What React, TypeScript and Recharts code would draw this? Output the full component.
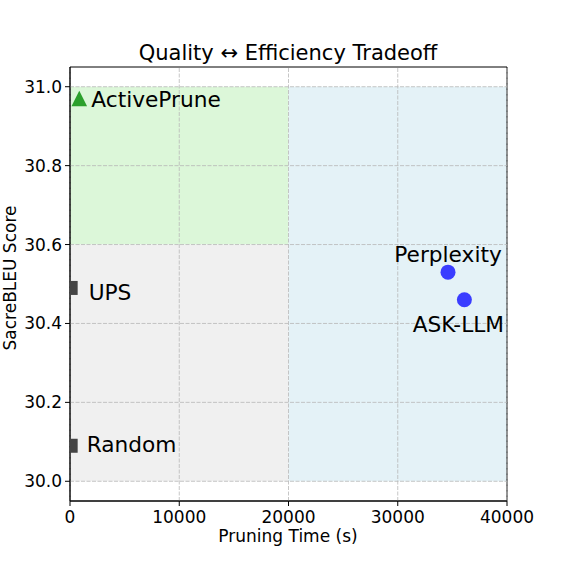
import { ReferenceArea, ReferenceLine, Scatter, ScatterChart, XAxis, YAxis } from "recharts";

const FONT = "'DejaVu Sans', 'Liberation Sans', sans-serif";

// points
const methods = ["ActivePrune", "UPS", "Random", "Perplexity", "ASK-LLM"];
const pruningTime = [850, 60, 60, 34600, 36100];
const sacreBleu = [30.97, 30.49, 30.09, 30.53, 30.46];
const family = ["ours", "cheap", "cheap", "model", "model"];

const xTicks = [0, 10000, 20000, 30000, 40000];
const yTicks = [30.0, 30.2, 30.4, 30.6, 30.8, 31.0];

// shaded zones (data coords)
const zoneNames = ["best", "cheap", "costly"];
const zoneX1 = [0, 0, 20000];
const zoneX2 = [20000, 20000, 40000];
const zoneY1 = [30.6, 30.0, 30.0];
const zoneY2 = [31.0, 30.6, 31.0];

const ZONE_FILL: Record<string, string> = {
  best: "#dcf7d9",
  cheap: "#f0f0f0",
  costly: "#e4f2f7",
};

const MARK_COLOR: Record<string, string> = {
  ours: "#2ca02c",
  cheap: "#444444",
  model: "#3a3dff",
};

const GRID = "#b8b8b8";

// annotation offsets in px from the marker centre (baseline-relative)
const LABEL_POS: Record<string, { dx: number; dy: number; anchor: "start" | "middle" }> = {
  ActivePrune: { dx: 12, dy: 8, anchor: "start" },
  UPS: { dx: 18, dy: 12, anchor: "start" },
  Random: { dx: 16, dy: 6, anchor: "start" },
  Perplexity: { dx: 0, dy: -10.5, anchor: "middle" },
  "ASK-LLM": { dx: -6, dy: 32.5, anchor: "middle" },
};

const rows = methods.map((name, i) => ({
  name,
  x: pruningTime[i],
  y: sacreBleu[i],
  family: family[i],
}));

function Marker(props: any) {
  const { cx, cy, payload } = props;
  if (cx == null || cy == null) return null;
  const color = MARK_COLOR[payload.family];
  const lp = LABEL_POS[payload.name];
  let mark;
  if (payload.family === "ours") {
    const h = 7.8;
    mark = <polygon points={`${cx},${cy - h} ${cx - h},${cy + h} ${cx + h},${cy + h}`} fill={color} />;
  } else if (payload.family === "cheap") {
    mark = <rect x={cx - 7} y={cy - 7} width={14} height={14} fill={color} />;
  } else {
    mark = <circle cx={cx} cy={cy} r={7.5} fill={color} />;
  }
  return (
    <g>
      {mark}
      <text x={cx + lp.dx} y={cy + lp.dy} textAnchor={lp.anchor} fontSize={21.7} fontFamily={FONT} fill="#000">
        {payload.name}
      </text>
    </g>
  );
}

export default function App() {
  return (
    <div style={{ position: "absolute", left: 0, top: 0, width: 563, height: 563, background: "#fff" }}>
      <ScatterChart width={563} height={563} margin={{ top: 67, right: 56, bottom: 22, left: 10 }}>
        {zoneNames.map((z, i) => (
          <ReferenceArea
            key={z}
            x1={zoneX1[i]}
            x2={zoneX2[i]}
            y1={zoneY1[i]}
            y2={zoneY2[i]}
            fill={ZONE_FILL[z]}
            fillOpacity={1}
            stroke="none"
          />
        ))}
        {xTicks.map((t) => (
          <ReferenceLine key={`gx${t}`} x={t} stroke={GRID} strokeDasharray="4 1.5" strokeWidth={0.8} />
        ))}
        {yTicks.map((t) => (
          <ReferenceLine key={`gy${t}`} y={t} stroke={GRID} strokeDasharray="4 1.5" strokeWidth={0.8} />
        ))}
        <XAxis
          type="number"
          dataKey="x"
          domain={[0, 40000]}
          ticks={xTicks}
          allowDataOverflow
          height={40}
          tickSize={5}
          tickMargin={5}
          tick={{ fontSize: 17, fill: "#000", fontFamily: FONT }}
          tickLine={{ stroke: "#000" }}
          axisLine={{ stroke: "#000" }}
        />
        <YAxis
          type="number"
          dataKey="y"
          domain={[29.95, 31.05]}
          ticks={yTicks}
          allowDataOverflow
          width={60}
          tickSize={5}
          tickMargin={3}
          tickFormatter={(v) => Number(v).toFixed(1)}
          tick={{ fontSize: 17, fill: "#000", fontFamily: FONT }}
          tickLine={{ stroke: "#000" }}
          axisLine={{ stroke: "#000" }}
        />
        <Scatter data={rows} shape={Marker} isAnimationActive={false} />
        <ReferenceArea x1={0} x2={40000} y1={29.95} y2={31.05} fill="none" stroke="#000" strokeWidth={1} />
      </ScatterChart>
      <svg width={563} height={563} style={{ position: "absolute", left: 0, top: 0, pointerEvents: "none" }}>
        <text x={288} y={60} textAnchor="middle" fontSize={21} fontFamily={FONT} fill="#000">
          Quality ↔ Efficiency Tradeoff
        </text>
        <text x={288} y={542} textAnchor="middle" fontSize={17} fontFamily={FONT} fill="#000">
          Pruning Time (s)
        </text>
        <text
          x={0}
          y={0}
          transform="translate(16,278) rotate(-90)"
          textAnchor="middle"
          fontSize={17}
          fontFamily={FONT}
          fill="#000"
        >
          SacreBLEU Score
        </text>
      </svg>
    </div>
  );
}
